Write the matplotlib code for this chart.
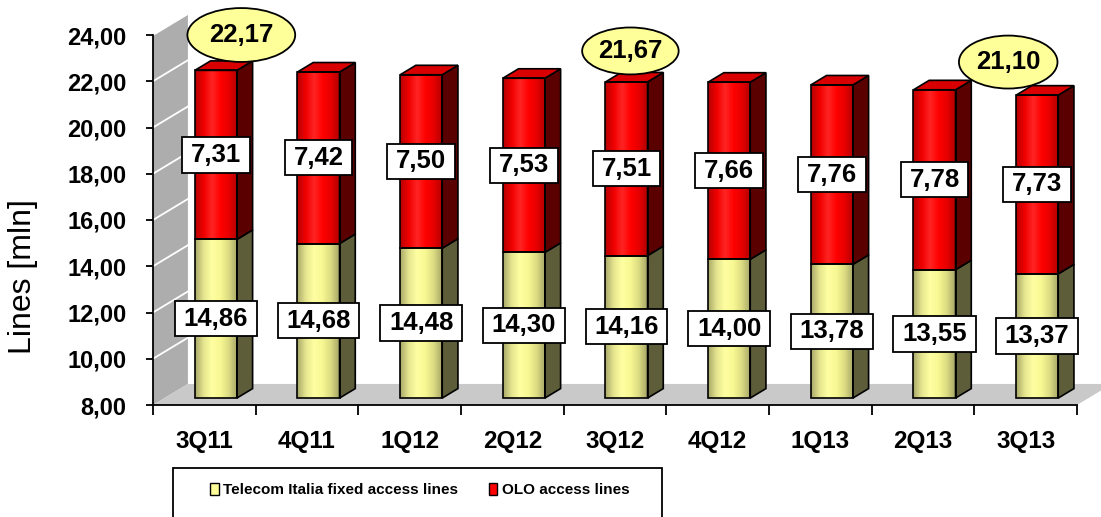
import numpy as np
import matplotlib
matplotlib.use("Agg")
import matplotlib.pyplot as plt
from matplotlib import font_manager
from matplotlib.colors import LinearSegmentedColormap
from matplotlib.patches import Polygon, Rectangle, Ellipse, Patch
from matplotlib.path import Path

quarters = ["3Q11", "4Q11", "1Q12", "2Q12", "3Q12", "4Q12", "1Q13", "2Q13", "3Q13"]
ti_lines = [14.86, 14.68, 14.48, 14.30, 14.16, 14.00, 13.78, 13.55, 13.37]
olo_lines = [7.31, 7.42, 7.50, 7.53, 7.51, 7.66, 7.76, 7.78, 7.73]
highlight_idx = [0, 4, 8]
series_names = ["Telecom Italia fixed access lines", "OLO access lines"]
y_ticks = [8, 10, 12, 14, 16, 18, 20, 22, 24]

# ellipse placement (offset from bar, size) for the total callouts
ell_dx = [0.36, 0.15, -0.17]
ell_dy = [1.83, 1.64, 1.73]
ell_w = [1.05, 0.94, 0.96]
ell_h = [2.33, 2.03, 2.29]

installed = {f.name for f in font_manager.fontManager.ttflist}
BASE = "Liberation Sans" if "Liberation Sans" in installed else "DejaVu Sans"
plt.rcParams["font.family"] = BASE

fig = plt.figure(figsize=(11.01, 5.17), dpi=100)
W, H = 1101, 517
ax = fig.add_axes([153 / W, 1 - 405 / H, 924 / W, 370 / H])
ax.set_xlim(-0.5, 8.5)
ax.set_ylim(8, 24)

# 3d geometry in data units
DX, DY = 0.34, 0.91           # full floor depth
FRONT = 0.33                  # bar front position along depth
BDEPTH = 0.45                 # bar depth as fraction of floor depth
BW = 0.41                     # bar width
ox, oy = DX * FRONT, DY * FRONT
bdx, bdy = DX * BDEPTH, DY * BDEPTH

# side wall with gridlines
wall = Polygon([(-0.5, 8), (-0.5, 24), (-0.5 + DX, 24 + DY), (-0.5 + DX, 8 + DY)],
               closed=True, fc="#adadad", ec="none", zorder=1, clip_on=False)
ax.add_patch(wall)
for v in y_ticks[1:]:
    ax.plot([-0.5, -0.5 + DX], [v, v + DY], color="white", lw=1.3, zorder=1.5, clip_on=False)
floor = Polygon([(-0.5, 8), (8.5, 8), (8.5 + DX, 8 + DY), (-0.5 + DX, 8 + DY)],
                closed=True, fc="#c9c9c9", ec="none", zorder=1, clip_on=False)
ax.add_patch(floor)

red_cmap = LinearSegmentedColormap.from_list(
    "red", ["#b80000", "#f00000", "#ff2424", "#ff0000", "#e60000", "#b00000"])
yel_cmap = LinearSegmentedColormap.from_list(
    "yel", ["#a9a96a", "#e6e690", "#ffffa2", "#f7f792", "#dada82", "#a4a466"])
grad = np.linspace(0, 1, 64).reshape(1, -1)


def draw_segment(x0, y0, y1, cmap, side_c, top_c=None):
    x1 = x0 + BW
    ax.imshow(grad, extent=(x0, x1, y0, y1), cmap=cmap, aspect="auto",
              interpolation="bilinear", zorder=3)
    ax.add_patch(Rectangle((x0, y0), BW, y1 - y0, fill=False, ec="black", lw=1.2, zorder=3.2))
    side = Polygon([(x1, y0), (x1 + bdx, y0 + bdy), (x1 + bdx, y1 + bdy), (x1, y1)],
                   closed=True, fc=side_c, ec="black", lw=1.2, zorder=3.1)
    ax.add_patch(side)
    if top_c is not None:
        top = Polygon([(x0, y1), (x1, y1), (x1 + bdx, y1 + bdy), (x0 + bdx, y1 + bdy)],
                      closed=True, fc=top_c, ec="black", lw=1.2, zorder=3.1)
        ax.add_patch(top)


def wide_box(x0, y0, width, height, mutation_size):
    # square label box with more room left/right than above/below
    px, py = 0.34 * mutation_size, 0.22 * mutation_size
    x0, y0 = x0 - px, y0 - py
    x1, y1 = x0 + width + 2 * px, y0 + height + 2 * py
    return Path([(x0, y0), (x1, y0), (x1, y1), (x0, y1), (x0, y0)], closed=True)


label_box = dict(boxstyle=wide_box, fc="white", ec="black", lw=1.3)
totals = []
for i, (ti, olo) in enumerate(zip(ti_lines, olo_lines)):
    total = ti + olo
    totals.append(total)
    x0 = i - BW / 2 + ox
    draw_segment(x0, 8 + oy, ti + oy, yel_cmap, "#5d5d3a")
    draw_segment(x0, ti + oy, total + oy, red_cmap, "#5a0000", "#d80000")
    xc = x0 + BW / 2
    ax.text(xc, (8 + ti) / 2 + oy, f"{ti:.2f}".replace(".", ","), ha="center", va="center",
            fontsize=18.5, fontweight="bold", bbox=label_box, zorder=5)
    ax.text(xc, ti + olo / 2 + oy, f"{olo:.2f}".replace(".", ","), ha="center", va="center",
            fontsize=18.5, fontweight="bold", bbox=label_box, zorder=5)

for k, i in enumerate(highlight_idx):
    cx, cy = i + ell_dx[k], totals[i] + ell_dy[k]
    ax.add_patch(Ellipse((cx, cy), ell_w[k], ell_h[k], fc="#ffff99", ec="black",
                         lw=1.3, zorder=6, clip_on=False))
    ax.text(cx, cy, f"{totals[i]:.2f}".replace(".", ","), ha="center", va="center",
            fontsize=18.5, fontweight="bold", zorder=7)

# axes
for s in ["top", "right"]:
    ax.spines[s].set_visible(False)
for s in ["left", "bottom"]:
    ax.spines[s].set_linewidth(1.3)
    ax.spines[s].set_zorder(2)
ax.set_yticks(y_ticks)
ax.set_yticklabels([f"{v:.2f}".replace(".", ",") for v in y_ticks],
                   fontsize=17, fontweight="bold")
ax.tick_params(axis="y", length=5, width=1.3, pad=14)
ax.set_xticks(range(len(quarters)))
ax.set_xticklabels(quarters, fontsize=17.5, fontweight="bold")
ax.set_xticks(np.arange(-0.5, len(quarters), 1), minor=True)
ax.tick_params(axis="x", which="major", length=0, pad=18)
ax.tick_params(axis="x", which="minor", length=7, width=1.3)
ax.set_ylabel("Lines [mln]", fontsize=23)
ax.yaxis.set_label_coords(-0.124, 0.346)

# legend with framed box running off the bottom
fig.add_artist(Rectangle((173 / W, -0.05), 489 / W, 0.05 + 1 - 468 / H,
                         transform=fig.transFigure, fill=False, ec="black", lw=1.3))
handles = [Patch(fc="#ffff99", ec="black", lw=1), Patch(fc="#ff0000", ec="black", lw=1)]
leg_font = dict(family=BASE, weight="bold", size=11)
fig.legend(handles, series_names, loc="center", bbox_to_anchor=(420 / W, 1 - 490 / H),
           ncol=2, frameon=False, prop=leg_font, handlelength=0.55, handleheight=0.8,
           handletextpad=0.3, columnspacing=2.0, borderpad=0)

fig.savefig("out.png", dpi=100)
